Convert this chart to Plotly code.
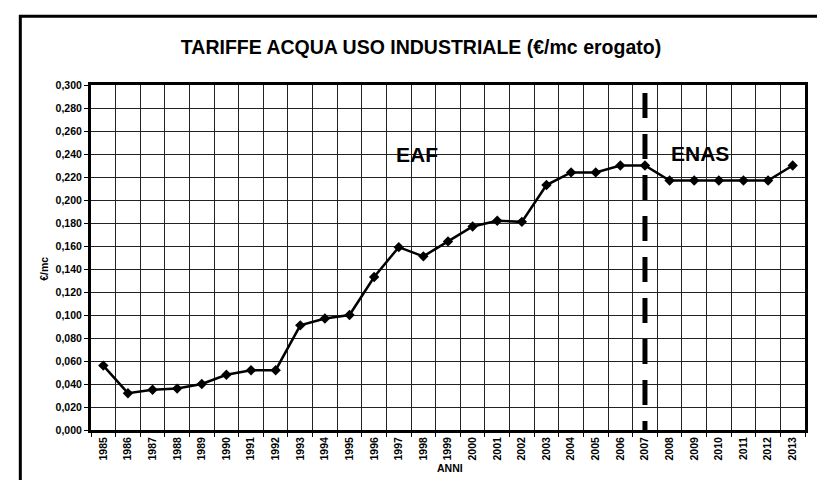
import plotly.graph_objects as go

years = [str(y) for y in range(1985, 2014)]
tariffe = [0.056, 0.032, 0.035, 0.036, 0.040, 0.048, 0.052, 0.052, 0.091, 0.097,
           0.100, 0.133, 0.159, 0.151, 0.164, 0.177, 0.182, 0.181, 0.213, 0.224,
           0.224, 0.230, 0.230, 0.217, 0.217, 0.217, 0.217, 0.217, 0.230]
title_text = "TARIFFE ACQUA USO INDUSTRIALE (€/mc erogato)"
x_title = "ANNI"
y_title = "€/mc"
label_eaf = "EAF"
label_enas = "ENAS"
split_year = "2007"
split_top = 0.293

FONT = "Liberation Sans, Arial, sans-serif"

fig = go.Figure()
fig.add_trace(go.Scatter(
    x=years, y=tariffe, mode="lines+markers",
    line=dict(color="black", width=2.5),
    marker=dict(symbol="diamond", size=8, color="black"),
    showlegend=False, hoverinfo="x+y",
))
# vertical dashed separator between EAF and ENAS periods
fig.add_trace(go.Scatter(
    x=[split_year, split_year], y=[split_top, 0], mode="lines",
    line=dict(color="black", width=5, dash="25px,16px"),
    showlegend=False, hoverinfo="skip",
))

# outer frame of the chart
fig.add_shape(type="rect", xref="paper", yref="paper",
              x0=-0.099, x1=1.06, y0=-0.2, y1=1.199,
              line=dict(color="black", width=3), layer="above")

fig.add_annotation(text=label_eaf, xref="paper", yref="paper", x=0.457, y=0.837,
                   showarrow=False, font=dict(family=FONT, size=21, color="black", weight="bold"))
fig.add_annotation(text=label_enas, xref="paper", yref="paper", x=0.896, y=0.840,
                   showarrow=False, font=dict(family=FONT, size=21, color="black", weight="bold"))
fig.add_annotation(text=x_title, xref="paper", yref="paper", x=0.503, y=-0.11,
                   yanchor="middle", showarrow=False,
                   font=dict(family=FONT, size=10.5, color="black", weight="bold"))
fig.add_annotation(text=y_title, xref="paper", yref="paper", x=-0.066, y=0.467,
                   textangle=-90, xanchor="center", yanchor="middle", showarrow=False,
                   font=dict(family=FONT, size=10.5, color="black", weight="bold"))

fig.update_layout(
    width=825, height=480,
    margin=dict(l=83, r=28, t=77, b=58),
    paper_bgcolor="white", plot_bgcolor="white",
    separators=", ",
    title=dict(text=title_text, x=0.5006, xref="container", xanchor="center",
               y=0.919, yref="container", yanchor="middle",
               font=dict(family=FONT, size=19.5, color="black", weight="bold")),
    font=dict(family=FONT, color="black"),
)
fig.update_xaxes(
    type="category", categoryorder="array", categoryarray=years,
    tickson="boundaries",
    range=[-0.5, len(years) - 0.5],
    showgrid=True, gridcolor="#222", gridwidth=1,
    showline=True, mirror=True, linecolor="black", linewidth=3,
    ticks="outside", ticklen=4, tickcolor="black", tickwidth=1,
    tickangle=-90, tickfont=dict(family=FONT, size=10.5, color="black", weight="bold"),
)
fig.update_yaxes(
    range=[0, 0.3], dtick=0.02, tick0=0, tickformat=".3f",
    showgrid=True, gridcolor="#222", gridwidth=1,
    showline=True, mirror=True, linecolor="black", linewidth=3,
    ticks="outside", ticklen=4, tickcolor="black", tickwidth=1,
    tickfont=dict(family=FONT, size=10.5, color="black", weight="bold"),
    zeroline=False,
)

fig.write_html("out.html")
